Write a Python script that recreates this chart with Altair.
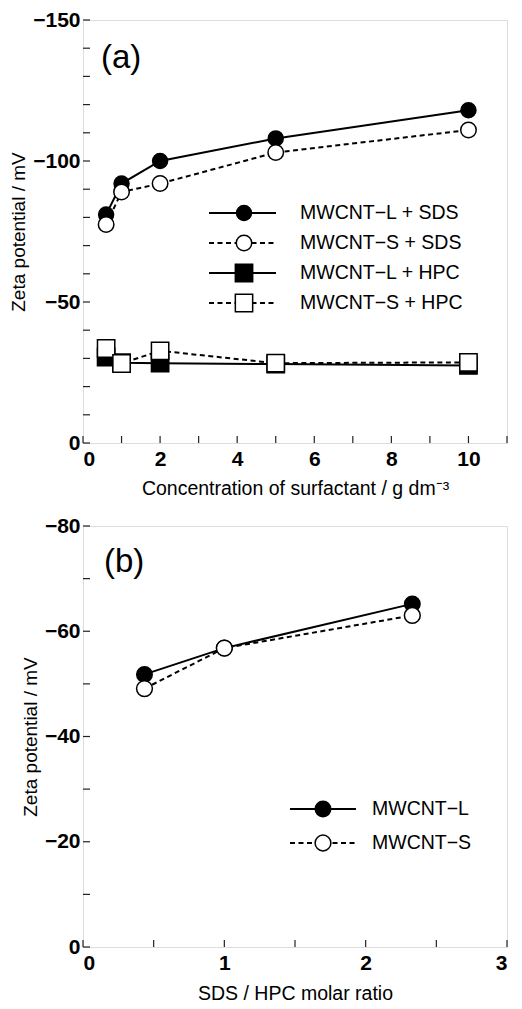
import altair as alt
import pandas as pd

# ---------------- data ----------------
conc = [0.6, 1, 2, 5, 10]
L_SDS = [-81, -92, -100, -108, -118]
S_SDS = [-77.5, -89, -92, -103, -111]
L_HPC = [-30.5, -28.5, -28.3, -28, -27.5]
S_HPC = [-33.5, -28.2, -32.7, -28.3, -28.6]
series_a = ["MWCNT\u2212L + SDS", "MWCNT\u2212S + SDS", "MWCNT\u2212L + HPC", "MWCNT\u2212S + HPC"]

ratio = [0.435, 1.0, 2.33]
L_b = [-51.8, -56.8, -65.2]
S_b = [-49.1, -56.8, -63.0]
series_b = ["MWCNT\u2212L", "MWCNT\u2212S"]

yticks_a = list(range(0, -151, -10))
ylabels_a = [0, -50, -100, -150]
xticks_a = list(range(0, 12))
xlabels_a = [0, 2, 4, 6, 8, 10]

yticks_b = list(range(0, -81, -10))
ylabels_b = [0, -20, -40, -60, -80]
xticks_b = [0, 0.5, 1, 1.5, 2, 2.5, 3]
xlabels_b = [0, 1, 2, 3]

# ---------------- styles ----------------
FONT = "Liberation Sans"
W = 424
HA = 423
HB = 421
DARK = "#222"

rows = []
for name, vals in zip(series_a, [L_SDS, S_SDS, L_HPC, S_HPC]):
    for c, v in zip(conc, vals):
        rows.append({"x": c, "y": v, "series": name})
df_a = pd.DataFrame(rows)

rows = []
for name, vals in zip(series_b, [L_b, S_b]):
    for c, v in zip(ratio, vals):
        rows.append({"x": c, "y": v, "series": name})
df_b = pd.DataFrame(rows)

# (shape, filled, dashed, size)
style_a = {
    series_a[0]: ("circle", True, False, 225),
    series_a[1]: ("circle", False, True, 240),
    series_a[2]: ("square", True, False, 300),
    series_a[3]: ("square", False, True, 300),
}
style_b = {
    series_b[0]: ("circle", True, False, 240),
    series_b[1]: ("circle", False, True, 250),
}


def make_panel(df, series, style, xdom, ydom, xlabels, ylabels, xticks, yticks,
               xtitle, H, tag, tag_xy, leg_x, leg_rows, x_title_pad):
    xscale = alt.Scale(domain=xdom, nice=False, zero=False)
    yscale = alt.Scale(domain=ydom, nice=False, zero=False)
    xaxis = alt.Axis(values=xlabels, ticks=False, domain=False, grid=False,
                     labelFont=FONT, labelFontWeight="bold", labelFontSize=21,
                     labelColor="black", labelPadding=5, labelOverlap=False,
                     title=xtitle, titleFont=FONT, titleFontWeight="normal",
                     titleFontSize=19.5, titleColor="black", titlePadding=x_title_pad)
    yaxis = alt.Axis(values=ylabels, ticks=False, domain=False, grid=False,
                     labelFont=FONT, labelFontWeight="bold", labelFontSize=21,
                     labelColor="black", labelPadding=3, labelOverlap=False,
                     title="Zeta potential / mV", titleFont=FONT,
                     titleFontWeight="normal", titleFontSize=19,
                     titleColor="black", titlePadding=4)
    X = alt.X("x:Q", scale=xscale, axis=xaxis)
    Y = alt.Y("y:Q", scale=yscale, axis=yaxis)

    layers = []
    base = alt.Chart(df)
    for name in series:
        shape, filled, dashed, size = style[name]
        kw = dict(color="black", strokeWidth=2)
        if dashed:
            kw["strokeDash"] = [5, 3.5]
        layers.append(base.transform_filter(alt.datum.series == name)
                      .mark_line(**kw).encode(x=X, y=Y))
    order = [n for n in series if style[n][1]] + [n for n in series if not style[n][1]]
    for name in order:
        shape, filled, dashed, size = style[name]
        layers.append(base.transform_filter(alt.datum.series == name)
                      .mark_point(shape=shape, filled=True, size=size,
                                  fill="black" if filled else "white",
                                  stroke="black", strokeWidth=1.5, opacity=1)
                      .encode(x=X, y=Y))
    # inward ticks
    yt = pd.DataFrame({"y": yticks})
    xt = pd.DataFrame({"x": xticks})
    layers.append(alt.Chart(yt).mark_rule(color=DARK, strokeWidth=1.2)
                  .encode(y=Y, x=alt.value(0), x2=alt.value(7)))
    layers.append(alt.Chart(xt).mark_rule(color=DARK, strokeWidth=1.2)
                  .encode(x=X, y=alt.value(H), y2=alt.value(H - 7)))
    # panel tag
    layers.append(alt.Chart(alt.Data(values=[{"t": tag}]))
                  .mark_text(font=FONT, fontSize=33, align="left", baseline="middle", color="black")
                  .encode(text="t:N", x=alt.value(tag_xy[0]), y=alt.value(tag_xy[1])))
    # legend
    x0, xm, x1, xt_ = leg_x
    for name, ry in zip(series, leg_rows):
        shape, filled, dashed, size = style[name]
        d = alt.Data(values=[{"label": name}])
        kw = dict(color="black", strokeWidth=2)
        if dashed:
            kw["strokeDash"] = [5, 3.5]
        layers.append(alt.Chart(d).mark_rule(**kw)
                      .encode(x=alt.value(x0), x2=alt.value(x1), y=alt.value(ry)))
        layers.append(alt.Chart(d).mark_point(shape=shape, filled=True, size=size,
                                              fill="black" if filled else "white",
                                              stroke="black", strokeWidth=1.5, opacity=1)
                      .encode(x=alt.value(xm), y=alt.value(ry)))
        layers.append(alt.Chart(d).mark_text(font=FONT, fontSize=19.5, align="left",
                                             baseline="middle", color="black")
                      .encode(text="label:N", x=alt.value(xt_), y=alt.value(ry)))
    return alt.layer(*layers).properties(width=W, height=H)


panel_a = make_panel(df_a, series_a, style_a, [0, 11], [0, -150], xlabels_a, ylabels_a,
                     xticks_a, yticks_a, "Concentration of surfactant / g dm\u207b\u00b3",
                     HA, "(a)", (18, 38), (126, 161, 193, 217), [193, 223, 253, 283], 10)
panel_b = make_panel(df_b, series_b, style_b, [0, 3], [0, -80], xlabels_b, ylabels_b,
                     xticks_b, yticks_b, "SDS / HPC molar ratio",
                     HB, "(b)", (21, 36), (207, 240, 273, 289), [283, 317], 11)

chart = (alt.vconcat(panel_a, panel_b, spacing=16)
         .properties(padding={"left": 1, "top": 0, "right": 0, "bottom": 0})
         .configure_view(stroke=DARK, strokeWidth=1.5)
         .configure(background="white"))

chart.save("out.html", embed_options={"renderer": "svg", "actions": False})
